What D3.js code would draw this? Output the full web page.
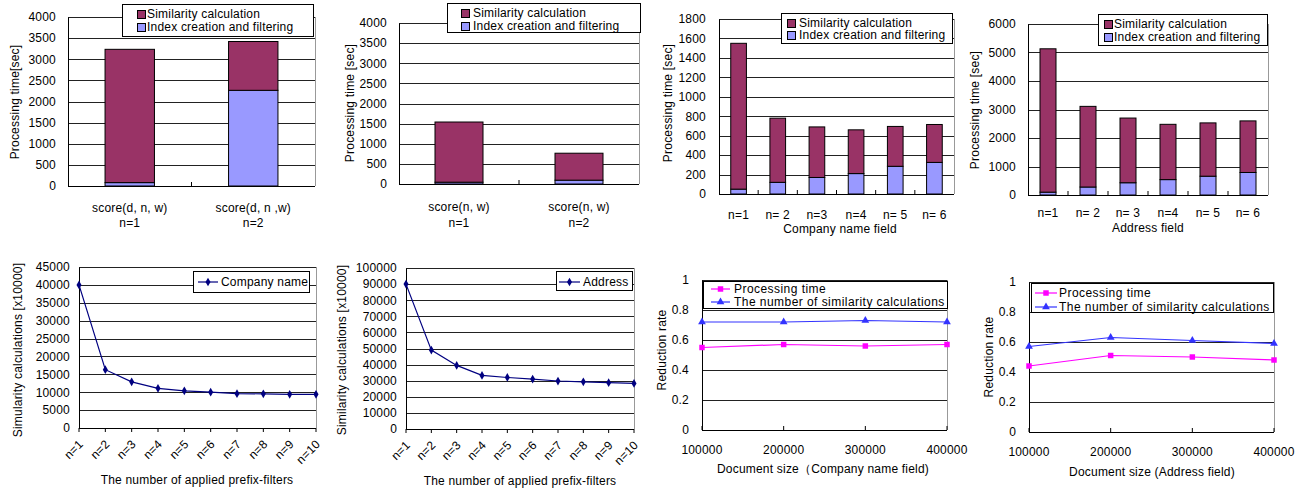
<!DOCTYPE html>
<html><head><meta charset="utf-8">
<script src="https://cdn.jsdelivr.net/npm/d3@7"></script>
<style>
html,body{margin:0;padding:0;background:#fff;}
svg text{font-family:"Liberation Sans",Arial,sans-serif;font-size:12px;letter-spacing:0.2px;fill:#000;}
</style></head>
<body><svg id="c" width="1310" height="493"></svg>
<script>
// ---------- DATA ----------
const seriesNames = ["Similarity calculation", "Index creation and filtering"];
const p1Categories = [["score(d, n, w)", "n=1"], ["score(d, n ,w)", "n=2"]];
const p1Index = [80, 2265];
const p1Similarity = [3155, 1155];
const p1Ticks = [0, 500, 1000, 1500, 2000, 2500, 3000, 3500, 4000];

const p2Categories = [["score(n, w)", "n=1"], ["score(n, w)", "n=2"]];
const p2Index = [45, 95];
const p2Similarity = [1495, 670];
const p2Ticks = [0, 500, 1000, 1500, 2000, 2500, 3000, 3500, 4000];

const p3Categories = [["n=1"], ["n= 2"], ["n=3"], ["n=4"], ["n= 5"], ["n= 6"]];
const p3Index = [50, 120, 170, 210, 285, 325];
const p3Similarity = [1500, 660, 520, 450, 410, 390];
const p3Ticks = [0, 200, 400, 600, 800, 1000, 1200, 1400, 1600, 1800];

const p4Categories = [["n=1"], ["n= 2"], ["n= 3"], ["n=4"], ["n= 5"], ["n= 6"]];
const p4Index = [100, 280, 430, 540, 660, 790];
const p4Similarity = [5030, 2830, 2270, 1940, 1870, 1810];
const p4Ticks = [0, 1000, 2000, 3000, 4000, 5000, 6000];

const filterCategories = ["n=1", "n=2", "n=3", "n=4", "n=5", "n=6", "n=7", "n=8", "n=9", "n=10"];
const p5CompanyName = [40000, 16300, 12900, 11100, 10400, 10000, 9600, 9550, 9400, 9400];
const p5Ticks = [0, 5000, 10000, 15000, 20000, 25000, 30000, 35000, 40000, 45000];
const p6Address = [90000, 49000, 39500, 33300, 32000, 31000, 29800, 29300, 28800, 28300];
const p6Ticks = [0, 10000, 20000, 30000, 40000, 50000, 60000, 70000, 80000, 90000, 100000];

const docSizes = [100000, 200000, 300000, 400000];
const rateNames = ["Processing time", "The number of similarity calculations"];
const p7Time = [0.55, 0.57, 0.56, 0.57];
const p7Calc = [0.72, 0.72, 0.73, 0.72];
const p8Time = [0.44, 0.51, 0.50, 0.48];
const p8Calc = [0.57, 0.63, 0.61, 0.59];
const rateTicks = [0, 0.2, 0.4, 0.6, 0.8, 1];

// ---------- STYLE ----------
const C_SIM = "#993366", C_IDX = "#9999FF", C_NAVY = "#000080", C_MAG = "#FF00FF", C_BLUE = "#3333FF";
const svg = d3.select("#c");

function frame(g, x0, x1, yScale, ticks, labelGap, fmt) {
  g.selectAll(null).data(ticks.filter(t => t !== 0)).enter().append("line")
    .attr("x1", x0).attr("x2", x1).attr("y1", d => Math.round(yScale(d)) + 0.5).attr("y2", d => Math.round(yScale(d)) + 0.5)
    .attr("stroke", "#222").attr("stroke-width", 1);
  g.append("line").attr("x1", x1 + 0.5).attr("x2", x1 + 0.5)
    .attr("y1", yScale(ticks[ticks.length - 1])).attr("y2", yScale(0)).attr("stroke", "#999");
  const ax = d3.axisLeft(yScale).tickValues(ticks).tickSize(0).tickPadding(labelGap).tickFormat(fmt || (d => d));
  const a = g.append("g").attr("transform", `translate(${x0},0)`).call(ax);
  a.select(".domain").attr("stroke", "#000");
  a.attr("font-family", null).attr("font-size", null);
  return a;
}

function yTitle(g, x, y, text) {
  g.append("text").attr("transform", `translate(${x},${y}) rotate(-90)`).attr("text-anchor", "middle")
    .attr("dy", "0.35em").text(text);
}

function barPanel(cfg) {
  const g = svg.append("g");
  const x = d3.scaleBand().domain(d3.range(cfg.cats.length)).range([cfg.x0, cfg.x1]);
  const y = d3.scaleLinear().domain([0, cfg.ticks[cfg.ticks.length - 1]]).range([cfg.yb, cfg.yt]);
  frame(g, cfg.x0, cfg.x1, y, cfg.ticks, cfg.gap);
  const bw = x.bandwidth() * 0.4;
  const stacked = cfg.idx.map((v, i) => ({ i, idx: v, sim: cfg.sim[i] }));
  const bars = g.selectAll(null).data(stacked).enter().append("g");
  bars.append("rect").attr("x", d => x(d.i) + (x.bandwidth() - bw) / 2).attr("width", bw)
    .attr("y", d => y(d.idx)).attr("height", d => y(0) - y(d.idx))
    .attr("fill", C_IDX).attr("stroke", "#000").attr("stroke-width", 1);
  bars.append("rect").attr("x", d => x(d.i) + (x.bandwidth() - bw) / 2).attr("width", bw)
    .attr("y", d => y(d.idx + d.sim)).attr("height", d => y(d.idx) - y(d.idx + d.sim))
    .attr("fill", C_SIM).attr("stroke", "#000").attr("stroke-width", 1);
  g.append("line").attr("x1", cfg.x0).attr("x2", cfg.x1).attr("y1", y(0) + 0.5).attr("y2", y(0) + 0.5).attr("stroke", "#000");
  g.selectAll(null).data(d3.range(1, cfg.cats.length)).enter().append("line")
    .attr("x1", d => x(d)).attr("x2", d => x(d)).attr("y1", y(0)).attr("y2", y(0) - 4).attr("stroke", "#000");
  cfg.cats.forEach((lines, i) => {
    lines.forEach((t, j) => {
      g.append("text").attr("x", x(i) + x.bandwidth() / 2).attr("y", cfg.catY + j * cfg.catDy)
        .attr("text-anchor", "middle").attr("dy", "0.35em").text(t);
    });
  });
  if (cfg.xTitle) g.append("text").attr("x", cfg.xTitleX).attr("y", cfg.xTitleY).attr("text-anchor", "middle").attr("dy", "0.35em").text(cfg.xTitle);
  yTitle(g, cfg.yTitleX, cfg.yTitleY, cfg.yTitle);
  const L = cfg.legend;
  g.append("rect").attr("x", L.x + 0.5).attr("y", L.y + 0.5).attr("width", L.w).attr("height", L.h).attr("fill", "#fff").attr("stroke", "#000");
  [[seriesNames[0], C_SIM], [seriesNames[1], C_IDX]].forEach(([t, c], i) => {
    const cy = L.r0 + i * L.dr;
    g.append("rect").attr("x", L.sx + 0.5).attr("y", cy - 4 + 0.5).attr("width", 8).attr("height", 8).attr("fill", c).attr("stroke", "#000");
    g.append("text").attr("x", L.tx).attr("y", cy).attr("dy", "0.35em").text(t);
  });
}

function marker(sel, shape, color, size) {
  const sym = shape === "diamond" ? d3.symbolDiamond : shape === "square" ? d3.symbolSquare : d3.symbolTriangle;
  return sel.append("path").attr("d", d3.symbol(sym, size)).attr("fill", color);
}

function filterPanel(cfg) {
  const g = svg.append("g");
  const x = d3.scalePoint().domain(filterCategories).range([cfg.x0, cfg.x1]);
  const y = d3.scaleLinear().domain([0, cfg.ticks[cfg.ticks.length - 1]]).range([cfg.yb, cfg.yt]);
  frame(g, cfg.x0, cfg.x1, y, cfg.ticks, cfg.gap);
  g.append("line").attr("x1", cfg.x0).attr("x2", cfg.x1).attr("y1", y(0) + 0.5).attr("y2", y(0) + 0.5).attr("stroke", "#000");
  g.selectAll(null).data(filterCategories).enter().append("line")
    .attr("x1", d => x(d)).attr("x2", d => x(d)).attr("y1", y(0)).attr("y2", y(0) + 4).attr("stroke", "#000");
  const line = d3.line().x((d, i) => x(filterCategories[i])).y(d => y(d));
  g.append("path").datum(cfg.values).attr("d", line).attr("fill", "none").attr("stroke", C_NAVY).attr("stroke-width", 1.2);
  cfg.values.forEach((v, i) => {
    marker(g, "diamond", C_NAVY, 22).attr("transform", `translate(${x(filterCategories[i])},${y(v)})`);
  });
  filterCategories.forEach(c => {
    g.append("text").attr("transform", `translate(${x(c) + 2},${y(0) + 14}) rotate(-45)`)
      .attr("text-anchor", "end").attr("dy", "0.35em").text(c);
  });
  g.append("text").attr("x", cfg.xTitleX).attr("y", cfg.xTitleY).attr("text-anchor", "middle").attr("dy", "0.35em").text("The number of applied prefix-filters");
  yTitle(g, cfg.yTitleX, cfg.yTitleY, cfg.yTitle);
  const L = cfg.legend;
  g.append("rect").attr("x", L.x + 0.5).attr("y", L.y + 0.5).attr("width", L.w).attr("height", L.h).attr("fill", "#fff").attr("stroke", "#000");
  g.append("line").attr("x1", L.lx0).attr("x2", L.lx1).attr("y1", L.cy).attr("y2", L.cy).attr("stroke", C_NAVY).attr("stroke-width", 1.2);
  marker(g, "diamond", C_NAVY, 22).attr("transform", `translate(${(L.lx0 + L.lx1) / 2},${L.cy})`);
  g.append("text").attr("x", L.tx).attr("y", L.cy).attr("dy", "0.35em").text(cfg.name);
}

function ratePanel(cfg) {
  const g = svg.append("g");
  const x = d3.scaleLinear().domain([docSizes[0], docSizes[docSizes.length - 1]]).range([cfg.x0, cfg.x1]);
  const y = d3.scaleLinear().domain([0, 1]).range([cfg.yb, cfg.yt]);
  frame(g, cfg.x0, cfg.x1, y, rateTicks, cfg.gap, d => d);
  g.append("line").attr("x1", cfg.x0).attr("x2", cfg.x1).attr("y1", y(0) + 0.5).attr("y2", y(0) + 0.5).attr("stroke", "#000");
  g.selectAll(null).data(docSizes).enter().append("line")
    .attr("x1", d => x(d)).attr("x2", d => x(d)).attr("y1", y(0)).attr("y2", y(0) - 4).attr("stroke", "#000");
  docSizes.forEach(d => {
    g.append("text").attr("x", x(d)).attr("y", cfg.tickY).attr("text-anchor", "middle").attr("dy", "0.35em").text(d);
  });
  const series = [[cfg.time, C_MAG, "square", 30], [cfg.calc, C_BLUE, "triangle", 26]];
  series.forEach(([vals, col, shp, sz]) => {
    const line = d3.line().x((d, i) => x(docSizes[i])).y(d => y(d));
    g.append("path").datum(vals).attr("d", line).attr("fill", "none").attr("stroke", col).attr("stroke-width", 1.2);
    vals.forEach((v, i) => marker(g, shp, col, sz).attr("transform", `translate(${x(docSizes[i])},${y(v)})`));
  });
  g.append("text").attr("x", cfg.xTitleX).attr("y", cfg.xTitleY).attr("text-anchor", "middle").attr("dy", "0.35em").text(cfg.xTitle);
  yTitle(g, cfg.yTitleX, cfg.yTitleY, "Reduction rate");
  const L = cfg.legend;
  g.append("rect").attr("x", L.x + 0.5).attr("y", L.y + 0.5).attr("width", L.w).attr("height", L.h).attr("fill", "#fff").attr("stroke", "#000");
  series.forEach(([vals, col, shp, sz], i) => {
    const cy = L.r0 + i * L.dr;
    g.append("line").attr("x1", L.lx0).attr("x2", L.lx1).attr("y1", cy).attr("y2", cy).attr("stroke", col).attr("stroke-width", 1.2);
    marker(g, shp, col, sz).attr("transform", `translate(${(L.lx0 + L.lx1) / 2},${cy})`);
    g.append("text").attr("x", L.tx).attr("y", cy).attr("dy", "0.35em").style("letter-spacing", "0.45px").text(rateNames[i]);
  });
}

// ---------- PANELS ----------
barPanel({ cats: p1Categories, idx: p1Index, sim: p1Similarity, ticks: p1Ticks,
  x0: 68, x1: 315, yt: 17, yb: 186, gap: 12, catY: 208, catDy: 15,
  yTitle: "Processing time[sec]", yTitleX: 15, yTitleY: 102,
  legend: { x: 122, y: 4, w: 191, h: 32, sx: 137, tx: 147, r0: 14, dr: 13 } });
barPanel({ cats: p2Categories, idx: p2Index, sim: p2Similarity, ticks: p2Ticks,
  x0: 399, x1: 639, yt: 23, yb: 184, gap: 12, catY: 207, catDy: 16,
  yTitle: "Processing time [sec]", yTitleX: 350, yTitleY: 103,
  legend: { x: 447, y: 3, w: 193, h: 29, sx: 461, tx: 473, r0: 13, dr: 13 } });
barPanel({ cats: p3Categories, idx: p3Index, sim: p3Similarity, ticks: p3Ticks,
  x0: 719, x1: 954, yt: 19, yb: 194, gap: 13, catY: 215, catDy: 0,
  xTitle: "Company name field", xTitleX: 840, xTitleY: 229,
  yTitle: "Processing time [sec]", yTitleX: 668, yTitleY: 103,
  legend: { x: 781, y: 13, w: 171, h: 30, sx: 787, tx: 799, r0: 23, dr: 12 } });
barPanel({ cats: p4Categories, idx: p4Index, sim: p4Similarity, ticks: p4Ticks,
  x0: 1028, x1: 1268, yt: 24, yb: 195, gap: 12, catY: 213, catDy: 0,
  xTitle: "Address field", xTitleX: 1148, xTitleY: 228,
  yTitle: "Processing time [sec]", yTitleX: 975, yTitleY: 110,
  legend: { x: 1098, y: 14, w: 169, h: 31, sx: 1104, tx: 1114, r0: 24, dr: 13 } });

filterPanel({ values: p5CompanyName, ticks: p5Ticks, name: "Company name",
  x0: 79, x1: 316, yt: 267, yb: 428, gap: 9, xTitleX: 197, xTitleY: 480,
  yTitle: "Simularity calculations [x10000]", yTitleX: 18, yTitleY: 350,
  legend: { x: 193, y: 271, w: 116, h: 21, lx0: 198, lx1: 218, cy: 282, tx: 221 } });
filterPanel({ values: p6Address, ticks: p6Ticks, name: "Address",
  x0: 406, x1: 634, yt: 268, yb: 429, gap: 9, xTitleX: 520, xTitleY: 481,
  yTitle: "Similarity calculations [x10000]", yTitleX: 342, yTitleY: 350,
  legend: { x: 556, y: 271, w: 76, h: 19, lx0: 559, lx1: 580, cy: 282, tx: 583 } });

ratePanel({ time: p7Time, calc: p7Calc, x0: 702, x1: 947, yt: 280, yb: 430, gap: 13, tickY: 450,
  xTitle: "Document size（Company name field)", xTitleX: 823, xTitleY: 469, yTitleX: 662, yTitleY: 350,
  legend: { x: 703, y: 281, w: 244, h: 27, lx0: 711, lx1: 730, tx: 734, r0: 289, dr: 13 } });
ratePanel({ time: p8Time, calc: p8Calc, x0: 1029, x1: 1274, yt: 282, yb: 432, gap: 13, tickY: 452,
  xTitle: "Document size (Address field)", xTitleX: 1152, xTitleY: 472, yTitleX: 989, yTitleY: 357,
  legend: { x: 1031, y: 283, w: 242, h: 29, lx0: 1035, lx1: 1057, tx: 1059, r0: 293, dr: 14 } });
</script></body></html>
